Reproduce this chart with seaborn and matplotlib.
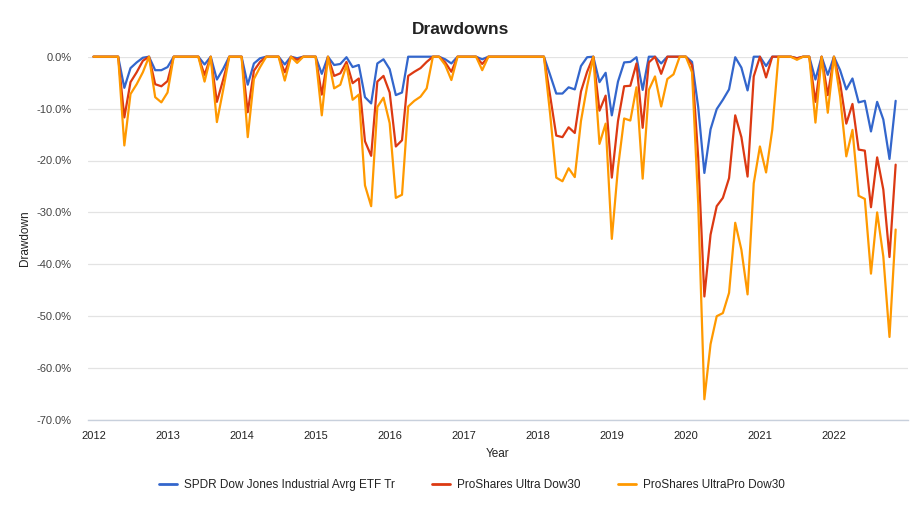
import numpy as np
import pandas as pd
import matplotlib
matplotlib.use("Agg")
import matplotlib.pyplot as plt
import seaborn as sns
from matplotlib.ticker import FuncFormatter, MultipleLocator
from matplotlib.lines import Line2D

# Monthly drawdowns (%) from Jan 2012 to Nov 2022
spdr = [
    0, 0, 0, 0, 0, -6.0, -2.2, -1.1, -0.2, 0, -2.6, -2.6,            # 2012
    -2.0, 0, 0, 0, 0, 0, -1.5, 0, -4.4, -2.4, 0, 0,                  # 2013
    0, -5.4, -1.3, -0.3, 0, 0, 0, -1.5, 0, -0.3, 0, 0,               # 2014
    0, -3.3, 0, -1.6, -1.4, -0.1, -2.0, -1.6, -7.8, -9.0, -1.3, -0.5,  # 2015
    -2.4, -7.4, -6.9, 0, 0, 0, 0, 0, 0, -0.5, -1.3, 0,               # 2016
    0, 0, 0, -0.5, 0, 0, 0, 0, 0, 0, 0, 0,                           # 2017
    0, 0, -3.5, -7.1, -7.1, -5.9, -6.3, -1.8, -0.1, 0, -4.9, -3.1,   # 2018
    -11.3, -4.8, -1.1, -1.0, -0.1, -6.4, 0, 0, -1.3, 0, 0, 0,        # 2019
    0, -1.0, -9.7, -22.4, -14.0, -10.1, -8.3, -6.3, -0.1, -2.1, -6.5, 0,  # 2020
    0, -1.8, 0, 0, 0, 0, -0.3, 0, 0, -4.4, 0, -3.5,                  # 2021
    0, -2.6, -6.3, -4.2, -8.8, -8.5, -14.4, -8.7, -12.1, -19.7, -8.5,  # 2022
]
ultra = [
    0, 0, 0, 0, 0, -11.7, -4.9, -3.0, -0.8, 0, -5.3, -5.7,
    -4.7, 0, 0, 0, 0, 0, -3.5, 0, -8.7, -4.5, 0, 0,
    0, -10.7, -2.7, -1.0, 0, 0, 0, -3.0, 0, -0.6, 0, 0,
    0, -7.3, 0, -3.7, -3.2, -1.0, -5.1, -4.2, -16.3, -19.1, -4.8, -3.7,
    -6.9, -17.3, -16.1, -3.7, -2.9, -2.2, -1.0, 0, 0, -1.1, -2.9, 0,
    0, 0, 0, -1.4, 0, 0, 0, 0, 0, 0, 0, 0,
    0, 0, -7.5, -15.2, -15.5, -13.6, -14.7, -6.7, -2.9, 0, -10.4, -7.5,
    -23.3, -12.4, -5.7, -5.6, -1.3, -13.7, -1.1, 0, -3.3, 0, 0, 0,
    0, -1.6, -19.4, -46.2, -34.3, -28.8, -27.2, -23.4, -11.3, -15.5, -23.1, -3.8,
    0, -4.0, 0, 0, 0, 0, -0.3, 0, 0, -8.7, 0, -7.4,
    0, -5.1, -12.9, -9.1, -17.9, -18.1, -29.0, -19.4, -25.6, -38.6, -20.8,
]
ultrapro = [
    0, 0, 0, 0, 0, -17.1, -7.2, -5.3, -3.0, 0, -7.8, -8.8,
    -6.9, 0, 0, 0, 0, 0, -4.8, 0, -12.6, -6.5, 0, 0,
    0, -15.5, -4.3, -2.0, 0, 0, 0, -4.6, 0, -1.2, 0, 0,
    0, -11.3, 0, -6.1, -5.4, -1.6, -8.3, -7.3, -24.8, -28.8, -9.7, -7.9,
    -12.8, -27.2, -26.6, -9.6, -8.5, -7.7, -6.1, 0, 0, -1.6, -4.5, 0,
    0, 0, 0, -2.6, 0, 0, 0, 0, 0, 0, 0, 0,
    0, 0, -11.0, -23.3, -24.0, -21.5, -23.2, -12.4, -5.7, 0, -16.8, -12.9,
    -35.1, -21.4, -11.9, -12.3, -5.9, -23.5, -6.4, -3.8, -9.6, -4.3, -3.4, 0,
    0, -3.0, -28.3, -66.0, -55.4, -50.0, -49.4, -45.5, -32.0, -37.2, -45.8, -24.4,
    -17.3, -22.3, -14.1, 0, 0, 0, -0.6, 0, 0, -12.7, 0, -10.8,
    0, -7.7, -19.2, -14.1, -26.8, -27.4, -41.8, -30.0, -38.5, -54.0, -33.3,
]
series_names = ["SPDR Dow Jones Industrial Avrg ETF Tr",
                "ProShares Ultra Dow30",
                "ProShares UltraPro Dow30"]
colors = ["#3366CC", "#DC3912", "#FF9900"]
year_ticks = list(range(2012, 2023))

dates = pd.date_range("2012-01-01", periods=len(spdr), freq="MS")
years = dates.year + (dates.month - 1) / 12.0

frames = []
for name, vals in zip(series_names, [spdr, ultra, ultrapro]):
    frames.append(pd.DataFrame({"Year": years, "Drawdown": vals, "Fund": name}))
df = pd.concat(frames, ignore_index=True)

sns.set_theme(style="white")
plt.rcParams["font.family"] = ["Liberation Sans", "DejaVu Sans"]

fig = plt.figure(figsize=(9.23, 5.05), dpi=100)
ax = fig.add_axes([88 / 923, 1 - 420 / 505, (908 - 88) / 923, (420 - 56.7) / 505])

sns.lineplot(data=df, x="Year", y="Drawdown", hue="Fund", palette=colors,
             hue_order=series_names, linewidth=1.6, ax=ax, legend=False,
             clip_on=False, zorder=3)

ax.set_xlim(2011.926, 2023.0)
ax.set_ylim(-70, 0)
ax.yaxis.set_major_locator(MultipleLocator(10))
ax.yaxis.set_major_formatter(FuncFormatter(lambda v, p: f"{v:.1f}%"))
ax.set_xticks(year_ticks)
ax.set_xticklabels([str(y) for y in year_ticks])

ax.grid(axis="y", color="#e3e3e3", linewidth=0.9)
ax.grid(axis="x", visible=False)
for s in ["top", "right", "left"]:
    ax.spines[s].set_visible(False)
ax.spines["bottom"].set_color("#c8d0dc")
ax.spines["bottom"].set_linewidth(1.0)
ax.tick_params(axis="x", length=5, color="#d8dde5", labelsize=8, labelcolor="#222222", pad=3)
ax.tick_params(axis="y", length=0, labelsize=8, labelcolor="#444444", pad=12)

ax.set_xlabel("Year", fontsize=8.5, color="#222222", labelpad=5)
ax.set_ylabel("Drawdown", fontsize=8.5, color="#222222", labelpad=4)

fig.text(0.4985, 1 - 30 / 505, "Drawdowns", ha="center", va="center",
         fontsize=12.5, fontweight="bold", color="#222222")

handles = [Line2D([0], [0], color=c, linewidth=2) for c in colors]
fig.legend(handles, series_names, loc="center", bbox_to_anchor=(472 / 923, 1 - 485 / 505),
           ncol=3, frameon=False, fontsize=8.5, handlelength=1.5, columnspacing=3.2,
           handletextpad=0.6, labelcolor="#222222")

fig.savefig("out.png", dpi=100)
